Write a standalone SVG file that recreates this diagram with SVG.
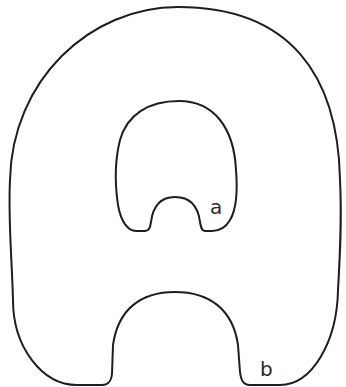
<svg xmlns="http://www.w3.org/2000/svg" width="346" height="387" viewBox="0 0 346 387">
<style>
.outline{fill:none;stroke:#1e1e1e;stroke-width:2;stroke-linejoin:round}
.lbl{font-family:"DejaVu Sans","Liberation Sans",sans-serif;font-size:20px;fill:#2a2a2a}
</style>
<rect width="346" height="387" fill="#fff"/>
<g id="outer">
<path class="outline" d="M 178 7 C 290 7 338 75 340 180 C 342 220 340 255 338 290 C 337 342 312 385 280 385 L 250 385 C 243 385 241 380 240 372 L 238 345 C 233 310 210 292 175 292 C 140 292 118 310 113 345 L 112 374 C 111 382 108 385 102 385 L 77 385 C 42 385 13 347 13 300 C 12 260 8 220 10 180 C 12 80 90 7 178 7 Z"/>
<text class="lbl" x="260" y="376">b</text>
</g>
<g id="inner">
<path class="outline" d="M 179 101 C 214 101 234 128 236 170 C 238 195 236 210 230 220 C 226 227 221 231 212 231 L 205 231 C 202 231 201 228 200 222 C 198 206 190 197 175 197 C 160 197 153 206 151 222 C 150 228 149 231 145 231 L 136 231 C 128 231 121 222 118 205 C 115 185 115 160 120 140 C 127 115 148 101 179 101 Z"/>
<text class="lbl" x="210" y="214">a</text>
</g>
</svg>
